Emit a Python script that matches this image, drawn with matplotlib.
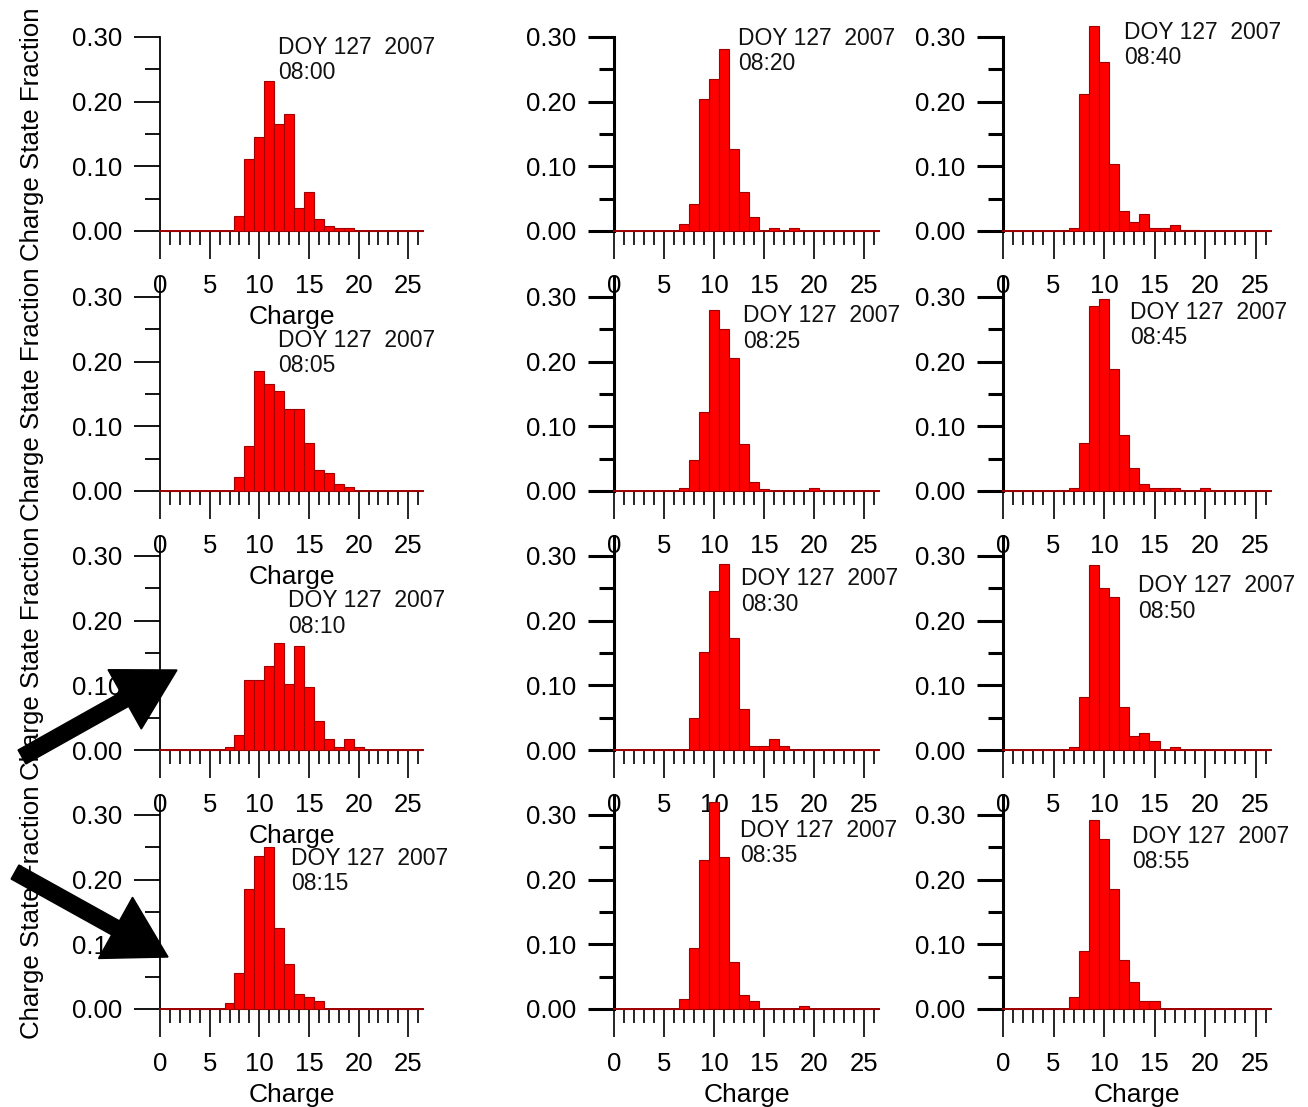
import numpy as np
import matplotlib
matplotlib.use("Agg")
import matplotlib.pyplot as plt
from matplotlib.ticker import MultipleLocator, FormatStrFormatter
from matplotlib.patches import FancyArrow

plt.rcParams['font.family'] = ['Liberation Sans', 'DejaVu Sans']

# ---------------- data ----------------
charge = np.arange(1, 27)

f0800 = [0]*7 + [0.023, 0.111, 0.145, 0.232, 0.166, 0.181, 0.035, 0.060, 0.018, 0.008, 0.004, 0.004] + [0]*7
f0805 = [0]*7 + [0.022, 0.069, 0.185, 0.165, 0.155, 0.127, 0.127, 0.074, 0.033, 0.028, 0.011, 0.006] + [0]*7
f0810 = [0]*6 + [0.004, 0.023, 0.108, 0.108, 0.130, 0.166, 0.102, 0.161, 0.098, 0.045, 0.017, 0.004, 0.017, 0.004] + [0]*6
f0815 = [0]*6 + [0.009, 0.055, 0.186, 0.236, 0.250, 0.125, 0.069, 0.023, 0.018, 0.013] + [0]*10
f0820 = [0]*6 + [0.011, 0.042, 0.204, 0.235, 0.281, 0.126, 0.060, 0.022, 0.0, 0.005, 0.0, 0.005] + [0]*8
f0825 = [0]*6 + [0.004, 0.048, 0.122, 0.280, 0.251, 0.205, 0.072, 0.014, 0.003, 0.0, 0.0, 0.0, 0.0, 0.004] + [0]*6
f0830 = [0]*7 + [0.050, 0.151, 0.245, 0.288, 0.173, 0.064, 0.006, 0.006, 0.017, 0.006] + [0]*9
f0835 = [0]*6 + [0.016, 0.095, 0.230, 0.320, 0.235, 0.072, 0.021, 0.013, 0.0, 0.0, 0.0, 0.0, 0.004] + [0]*7
f0840 = [0]*6 + [0.004, 0.211, 0.317, 0.261, 0.103, 0.031, 0.014, 0.026, 0.004, 0.004, 0.009, 0.002, 0.001] + [0]*7
f0845 = [0]*6 + [0.004, 0.074, 0.286, 0.297, 0.188, 0.086, 0.036, 0.011, 0.004, 0.004, 0.004, 0.0, 0.0, 0.004] + [0]*6
f0850 = [0]*6 + [0.004, 0.082, 0.286, 0.251, 0.237, 0.067, 0.021, 0.027, 0.014, 0.0, 0.004] + [0]*9
f0855 = [0]*6 + [0.019, 0.090, 0.292, 0.263, 0.186, 0.075, 0.042, 0.013, 0.013] + [0]*11

times = [["08:00", "08:20", "08:40"],
         ["08:05", "08:25", "08:45"],
         ["08:10", "08:30", "08:50"],
         ["08:15", "08:35", "08:55"]]
fractions = [[f0800, f0820, f0840],
             [f0805, f0825, f0845],
             [f0810, f0830, f0850],
             [f0815, f0835, f0855]]
label_title = "DOY 127  2007"
xlabel = "Charge"
ylabel = "Charge State Fraction"

# ---------------- layout ----------------
W, H = 1308, 1107
fig = plt.figure(figsize=(W/100, H/100), dpi=100)

col_left = [160, 614, 1003]
col_scale = [9.93, 10.0, 10.1]     # px per charge unit
row_base = [231, 491, 750, 1009]    # px of y=0
px_per_unit_y = 647.0               # px per 1.0 fraction
XMAX = 26.5
YMAX = 0.33

# text anchor positions (data coords) for each panel
text_pos = [[(11.9, 0.302), (12.4, 0.316), (12.0, 0.325)],
            [(11.9, 0.251), (12.9, 0.289), (12.6, 0.294)],
            [(12.9, 0.249), (12.7, 0.283), (13.4, 0.272)],
            [(13.2, 0.251), (12.6, 0.294), (12.8, 0.285)]]

FS_TICK = 18.5
FS_TXT = 16.5
FS_LAB = 19
for r in range(4):
    for c in range(3):
        left = col_left[c]
        width = XMAX * col_scale[c]
        height = YMAX * px_per_unit_y
        bottom = H - row_base[r]
        ax = fig.add_axes([left/W, bottom/H, width/W, height/H])
        ax.patch.set_alpha(0)
        ax.bar(charge, fractions[r][c], width=1.0, color='#ff0000',
               edgecolor='#a00000', linewidth=0.8, zorder=3, clip_on=False)
        ax.set_xlim(0, XMAX)
        ax.set_ylim(0, YMAX)
        for s in ['top', 'right']:
            ax.spines[s].set_visible(False)
        lw = 1.3 if c == 0 else 2.2
        ax.spines['left'].set_linewidth(lw)
        ax.spines['bottom'].set_linewidth(1.4)
        ax.spines['bottom'].set_color('#9a0000')
        if r == 0:
            ax.spines['left'].set_bounds(0, 0.30)
        ax.xaxis.set_major_locator(MultipleLocator(5))
        ax.xaxis.set_minor_locator(MultipleLocator(1))
        ax.yaxis.set_major_locator(MultipleLocator(0.1))
        ax.yaxis.set_minor_locator(MultipleLocator(0.05))
        ax.yaxis.set_major_formatter(FormatStrFormatter('%.2f'))
        ax.tick_params(axis='x', which='major', direction='out', length=20, width=1.2,
                       pad=11, labelsize=FS_TICK, colors='black')
        ax.tick_params(axis='x', which='minor', direction='out', length=10, width=1.2,
                       colors='black')
        ax.tick_params(axis='y', which='major', direction='out', length=19, width=lw,
                       pad=8, labelsize=FS_TICK)
        ax.tick_params(axis='y', which='minor', direction='out', length=11, width=lw)
        tx, ty = text_pos[r][c]
        ax.text(tx, ty, label_title + "\n" + times[r][c], fontsize=FS_TXT, va='top',
                ha='left', linespacing=1.15, color='#111111', clip_on=False, zorder=5)
        if c == 0 or r == 3:
            ax.set_xlabel(xlabel, fontsize=FS_LAB, labelpad=5)
        if c == 0:
            ax.set_ylabel(ylabel, fontsize=18.6)
            ax.yaxis.set_label_coords((44 - left) / width, 0.5 * 0.30 / YMAX)

# ---------------- arrows overlay ----------------
ov = fig.add_axes([0, 0, 1, 1], zorder=10)
ov.set_xlim(0, W)
ov.set_ylim(H, 0)
ov.axis('off')
ov.patch.set_alpha(0)
ov.add_patch(FancyArrow(22, 757, 155, -87, width=16, head_width=68, head_length=60,
                        length_includes_head=True, fc='black', ec='black'))
ov.add_patch(FancyArrow(15, 872, 153, 85, width=16, head_width=70, head_length=60,
                        length_includes_head=True, fc='black', ec='black'))

fig.savefig("out.png", dpi=100)
